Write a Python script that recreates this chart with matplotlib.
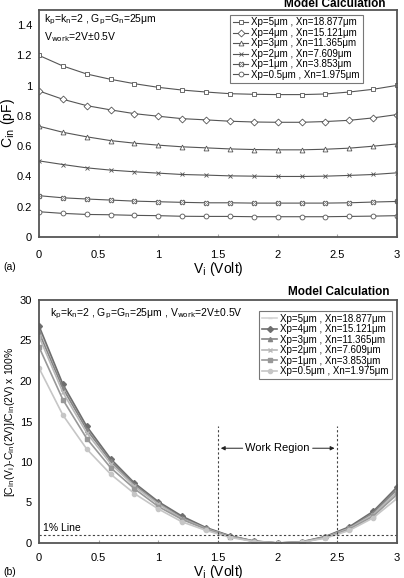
import numpy as np
import matplotlib.pyplot as plt

vi = [0, 0.2, 0.4, 0.6, 0.8, 1.0, 1.2, 1.4, 1.6, 1.8, 2.0, 2.2, 2.4, 2.6, 2.8, 3.0]

labels = ['Xp=5μm , Xn=18.877μm', 'Xp=4μm , Xn=15.121μm', 'Xp=3μm , Xn=11.365μm',
          'Xp=2μm , Xn=7.609μm', 'Xp=1μm , Xn=3.853μm', 'Xp=0.5μm , Xn=1.975μm']

# (a) input capacitance, pF
cin_xp5 = [1.200, 1.130, 1.077, 1.042, 1.013, 0.989, 0.971, 0.958, 0.947, 0.943, 0.941, 0.941, 0.945, 0.958, 0.976, 1.002]
cin_xp4 = [0.965, 0.910, 0.868, 0.840, 0.815, 0.798, 0.782, 0.774, 0.765, 0.760, 0.758, 0.758, 0.763, 0.771, 0.787, 0.809]
cin_xp3 = [0.732, 0.692, 0.662, 0.637, 0.620, 0.607, 0.596, 0.589, 0.582, 0.578, 0.576, 0.576, 0.580, 0.587, 0.600, 0.615]
cin_xp2 = [0.503, 0.479, 0.457, 0.442, 0.431, 0.422, 0.413, 0.409, 0.404, 0.402, 0.400, 0.400, 0.402, 0.407, 0.413, 0.424]
cin_xp1 = [0.273, 0.259, 0.251, 0.244, 0.237, 0.233, 0.229, 0.226, 0.226, 0.224, 0.224, 0.224, 0.224, 0.226, 0.231, 0.235]
cin_xp05 = [0.167, 0.156, 0.149, 0.147, 0.143, 0.141, 0.137, 0.136, 0.136, 0.134, 0.134, 0.134, 0.134, 0.136, 0.138, 0.141]

# (b) relative deviation from Cin(2V), %
dev_xp5 = [26.5, 19.4, 14.2, 10.3, 7.3, 5.0, 3.2, 1.85, 0.85, 0.22, 0, 0.10, 0.75, 1.9, 3.8, 6.7]
dev_xp4 = [26.8, 19.6, 14.4, 10.4, 7.4, 5.1, 3.3, 1.90, 0.90, 0.25, 0, 0.15, 0.80, 2.0, 3.9, 6.9]
dev_xp3 = [26.0, 19.1, 14.0, 10.1, 7.2, 4.9, 3.1, 1.80, 0.85, 0.22, 0, 0.10, 0.75, 1.85, 3.7, 6.6]
dev_xp2 = [25.5, 18.6, 13.6, 9.8, 7.0, 4.8, 3.0, 1.75, 0.80, 0.20, 0, 0.10, 0.70, 1.8, 3.5, 6.3]
dev_xp1 = [24.2, 17.7, 12.9, 9.3, 6.7, 4.5, 2.9, 1.70, 0.80, 0.20, 0, 0.08, 0.68, 1.7, 3.3, 6.0]
dev_xp05 = [21.6, 15.8, 11.6, 8.5, 6.1, 4.2, 2.6, 1.55, 0.70, 0.18, 0, 0.08, 0.60, 1.55, 3.1, 5.5]

cin_all = [cin_xp5, cin_xp4, cin_xp3, cin_xp2, cin_xp1, cin_xp05]
dev_all = [dev_xp5, dev_xp4, dev_xp3, dev_xp2, dev_xp1, dev_xp05]

markers_a = ['s', 'D', '^', 'x', 'X', 'o']
markers_b = ['_', 'D', '^', 'x', 's', 'o']
greys_b = ['#d4d4d4', '#6e6e6e', '#858585', '#b8b8b8', '#989898', '#c6c6c6']

plt.rcParams['font.family'] = ['Liberation Sans', 'DejaVu Sans']
fig = plt.figure(figsize=(4.04, 5.78), dpi=100)
W, H = 404, 578
ax1 = fig.add_axes([39 / W, 1 - 237 / H, 358 / W, 227 / H])
ax2 = fig.add_axes([39 / W, 1 - 543 / H, 358 / W, 243 / H])

for ax in (ax1, ax2):
    for s in ax.spines.values():
        s.set_color('#555555')
        s.set_linewidth(1.3)
    ax.set_xlim(0, 3)
    ax.set_xticks([0, 0.5, 1, 1.5, 2, 2.5, 3])
    ax.set_xticklabels(['0', '0.5', '1', '1.5', '2', '2.5', '3'])
    ax.tick_params(axis='x', direction='in', length=2, pad=9, labelsize=8, color='#aaaaaa')
    ax.tick_params(axis='y', length=0, pad=5, labelsize=8)
ax2.tick_params(axis='x', pad=7)

# (a)
for vals, m, lab in zip(cin_all, markers_a, labels):
    ax1.plot(vi, vals, color='#555555', lw=0.8, marker=m, markersize=3.5,
             markerfacecolor='white', markeredgecolor='#555555', markeredgewidth=0.6, label=lab)
ax1.set_ylim(0, 1.5)
ax1.set_yticks([0, 0.2, 0.4, 0.6, 0.8, 1, 1.2, 1.4])
ax1.set_yticklabels(['0', '0.2', '0.4', '0.6', '0.8', '1', '1.2', '1.4'])
ax1.set_xlabel('V$_\\mathrm{i}$ (Volt)', fontsize=10, labelpad=0)
ax1.set_ylabel('C$_\\mathrm{in}$ (pF)', fontsize=10, labelpad=0)
leg1 = ax1.legend(loc='upper right', bbox_to_anchor=(0.904, 0.98), fontsize=7, frameon=True,
                  fancybox=False, edgecolor='#555555', handlelength=1.6, handletextpad=0.3,
                  labelspacing=0.05, borderpad=0.3, borderaxespad=0)
leg1.get_frame().set_linewidth(0.8)
ax1.text(0.015, 0.955, 'k$_\\mathrm{p}$=k$_\\mathrm{n}$=2 , G$_\\mathrm{p}$=G$_\\mathrm{n}$=25μm',
         transform=ax1.transAxes, fontsize=7.5, va='center')
ax1.text(0.015, 0.88, 'V$_\\mathrm{work}$=2V±0.5V', transform=ax1.transAxes, fontsize=7.5, va='center')
fig.text(385 / W, 1 - 4 / H, 'Model Calculation', ha='right', va='center', fontsize=8.5, fontweight='bold')
fig.text(3 / W, 1 - 267 / H, '(a)', fontsize=7.5, va='center')

# (b)
for vals, m, c, lab in zip(dev_all, markers_b, greys_b, labels):
    ax2.plot(vi, vals, color=c, lw=1.2, marker=m, markersize=3,
             markerfacecolor=c, markeredgecolor=c, label=lab)
ax2.set_ylim(0, 30)
ax2.set_yticks([0, 5, 10, 15, 20, 25, 30])
ax2.set_xlabel('V$_\\mathrm{i}$ (Volt)', fontsize=10, labelpad=0)
ax2.set_ylabel('[C$_\\mathrm{in}$(V$_\\mathrm{i}$)-C$_\\mathrm{in}$(2V)]/C$_\\mathrm{in}$(2V) x 100%',
               fontsize=7.5, labelpad=2)
leg2 = ax2.legend(loc='upper right', bbox_to_anchor=(0.985, 0.955), fontsize=7, frameon=True,
                  fancybox=False, edgecolor='#555555', handlelength=1.6, handletextpad=0.3,
                  labelspacing=0.05, borderpad=0.3, borderaxespad=0)
leg2.get_frame().set_linewidth(0.8)
ax2.text(0.03, 0.945, 'k$_\\mathrm{p}$=k$_\\mathrm{n}$=2 , G$_\\mathrm{p}$=G$_\\mathrm{n}$=25μm , V$_\\mathrm{work}$=2V±0.5V',
         transform=ax2.transAxes, fontsize=7.5, va='center')
ax2.axhline(1, color='#444444', lw=0.8, ls=(0, (2, 2)))
ax2.text(0.03, 1.9, '1% Line', fontsize=7.5, va='center')
for xv in (1.5, 2.5):
    ax2.plot([xv, xv], [0, 14.5], color='#444444', lw=0.8, ls=(0, (2, 2)))
ax2.text(2.0, 11.7, 'Work Region', fontsize=8, ha='center', va='center')
ax2.annotate('', xy=(1.5, 11.7), xytext=(1.73, 11.7),
             arrowprops=dict(arrowstyle='-|>', color='#222222', lw=0.7, mutation_scale=6))
ax2.annotate('', xy=(2.5, 11.7), xytext=(2.27, 11.7),
             arrowprops=dict(arrowstyle='-|>', color='#222222', lw=0.7, mutation_scale=6))
fig.text(389 / W, 1 - 292 / H, 'Model Calculation', ha='right', va='center', fontsize=8.5, fontweight='bold')
fig.text(3 / W, 1 - 572 / H, '(b)', fontsize=7.5, va='center')

fig.savefig('out.png', dpi=100)
